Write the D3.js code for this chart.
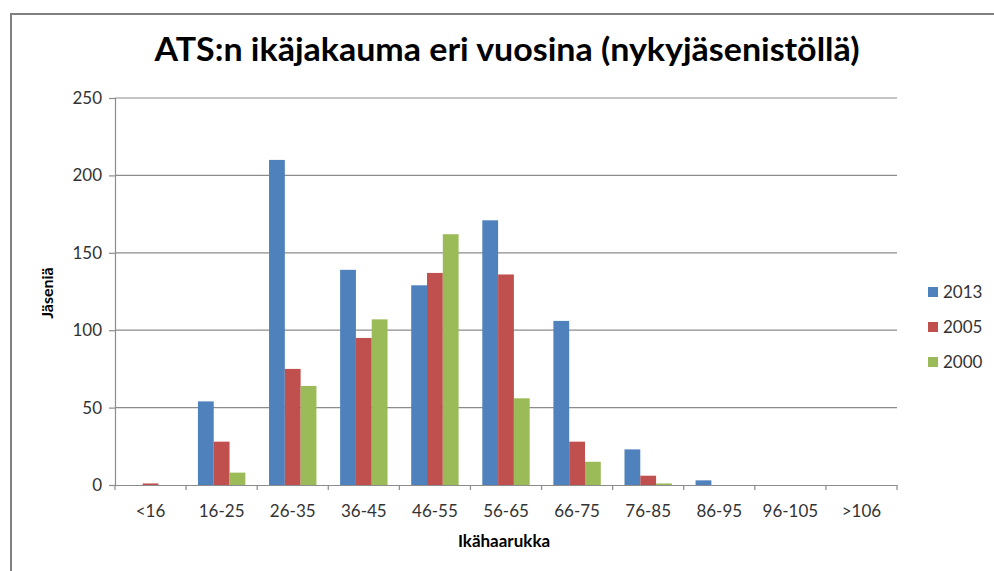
<!DOCTYPE html>
<meta charset="utf-8">
<style>
body { margin: 0; background: #fff; }
svg text { font-family: Lato, "Noto Sans", sans-serif; }
</style>
<svg id="chart" width="994" height="571"></svg>
<script src="https://cdn.jsdelivr.net/npm/d3@7"></script>
<script>
// age groups and member counts per year
var ageGroups = ["<16", "16-25", "26-35", "36-45", "46-55", "56-65", "66-75", "76-85", "86-95", "96-105", ">106"];
var years = ["2013", "2005", "2000"];
var members2013 = [0, 54, 210, 139, 129, 171, 106, 23, 3, 0, 0];
var members2005 = [1, 28, 75, 95, 137, 136, 28, 6, 0, 0, 0];
var members2000 = [0, 8, 64, 107, 162, 56, 15, 1, 0, 0, 0];
var yTicks = [0, 50, 100, 150, 200, 250];
var colors = ["#4F81BD", "#C0504D", "#9BBB59"];

var seriesData = [members2013, members2005, members2000];

var svg = d3.select("#chart");
var margin = {top: 98, left: 115, right: 97, bottom: 86};
var width = 994 - margin.left - margin.right;   // ~782
var height = 571 - margin.top - margin.bottom;  // ~387

// chart frame (cut off at right/bottom like the screenshot)
svg.append("rect")
    .attr("x", 11).attr("y", 14)
    .attr("width", 1100).attr("height", 700)
    .attr("fill", "none")
    .attr("stroke", "#808080")
    .attr("stroke-width", 2);

var g = svg.append("g").attr("transform", "translate(" + margin.left + "," + margin.top + ")");

var x = d3.scaleBand().domain(ageGroups).range([0, width]).padding(0);
var y = d3.scaleLinear().domain([0, 250]).range([height, 0]);

// gap width 150% like excel
var groupW = x.bandwidth() * 3 / 4.5;
var xs = d3.scaleBand().domain(years)
    .range([(x.bandwidth() - groupW) / 2, (x.bandwidth() + groupW) / 2]);

// gridlines
g.append("g")
    .selectAll("line")
    .data(yTicks.filter(function(d) { return d > 0; }))
    .enter().append("line")
      .attr("x1", 0).attr("x2", width)
      .attr("y1", function(d) { return y(d); })
      .attr("y2", function(d) { return y(d); })
      .attr("stroke", "#8c8c8c")
      .attr("stroke-width", 1.2);

// bars
g.append("g").selectAll("g")
    .data(years)
    .enter().append("g")
      .attr("fill", function(d, i) { return colors[i]; })
    .selectAll("rect")
      .data(function(d, i) { return seriesData[i].map(function(v, j) { return {year: d, cat: ageGroups[j], v: v}; }); })
    .enter().append("rect")
      .attr("x", function(d) { return x(d.cat) + xs(d.year); })
      .attr("y", function(d) { return y(d.v); })
      .attr("width", xs.bandwidth())
      .attr("height", function(d) { return height - y(d.v); });

// y axis
var yAxis = g.append("g")
    .call(d3.axisLeft(y).tickValues(yTicks).tickSize(6).tickPadding(5));
// x axis
var xAxis = g.append("g")
    .attr("transform", "translate(0," + height + ")")
    .call(d3.axisBottom(x).tickSize(0).tickPadding(20));

// x ticks on category boundaries
xAxis.selectAll(".bound")
    .data(d3.range(ageGroups.length + 1))
    .enter().append("line")
      .attr("class", "bound")
      .attr("x1", function(d) { return d * x.step(); })
      .attr("x2", function(d) { return d * x.step(); })
      .attr("y1", 0).attr("y2", 5)
      .attr("stroke", "#8c8c8c")
      .attr("stroke-width", 1.2);

[yAxis, xAxis].forEach(function(a) {
  a.select(".domain").attr("stroke", "#8c8c8c").attr("stroke-width", 1.2);
  a.selectAll(".tick line").attr("stroke", "#8c8c8c").attr("stroke-width", 1.2);
  a.selectAll("text")
    .attr("font-family", "Lato, sans-serif")
    .attr("font-size", 17)
    .attr("fill", "#333");
});
yAxis.selectAll("text").attr("x", -13);

// title
svg.append("text")
    .attr("x", 507).attr("y", 61)
    .attr("text-anchor", "middle")
    .attr("font-weight", "bold")
    .attr("font-size", 33)
    .attr("fill", "#000")
    .attr("textLength", 705)
    .attr("lengthAdjust", "spacingAndGlyphs")
    .text("ATS:n ikäjakauma eri vuosina (nykyjäsenistöllä)");

// axis titles
svg.append("text")
    .attr("transform", "translate(53,293) rotate(-90)")
    .attr("text-anchor", "middle")
    .attr("font-weight", "bold")
    .attr("font-size", 16)
    .text("Jäseniä");

svg.append("text")
    .attr("x", 504).attr("y", 547)
    .attr("text-anchor", "middle")
    .attr("font-weight", "bold")
    .attr("font-size", 17)
    .text("Ikähaarukka");

// legend
var legend = svg.append("g")
    .selectAll("g")
    .data(years)
    .enter().append("g")
      .attr("transform", function(d, i) { return "translate(928," + (292 + i * 35) + ")"; });

legend.append("rect")
    .attr("x", 0).attr("y", -5)
    .attr("width", 10).attr("height", 10)
    .attr("fill", function(d, i) { return colors[i]; });

legend.append("text")
    .attr("x", 15).attr("y", 6)
    .attr("font-size", 17)
    .attr("fill", "#333")
    .text(function(d) { return d; });
</script>
